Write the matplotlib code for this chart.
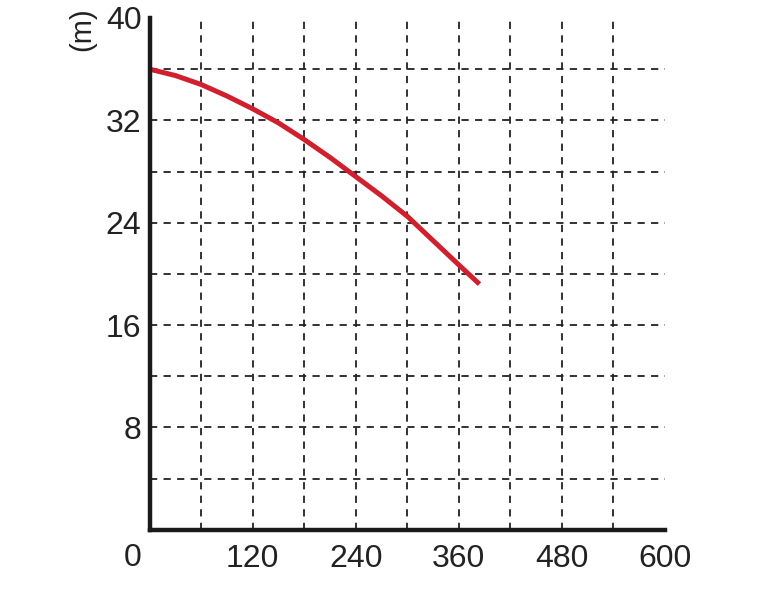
import matplotlib
matplotlib.use("Agg")
import matplotlib.pyplot as plt

plt.rcParams['font.family'] = ['Liberation Sans', 'DejaVu Sans']

# curve: flow vs head (m)
flow = [0, 30, 60, 90, 120, 150, 180, 210, 240, 270, 300, 330, 360, 384]
head = [36.0, 35.5, 34.8, 33.9, 32.9, 31.8, 30.5, 29.1, 27.6, 26.1, 24.5,
        22.6, 20.7, 19.2]

x_ticks = [120, 240, 360, 480, 600]
y_ticks = [8, 16, 24, 32, 40]
x_grid = [60, 120, 180, 240, 300, 360, 420, 480, 540]
y_grid = [4, 8, 12, 16, 20, 24, 28, 32, 36]

fig = plt.figure(figsize=(7.6, 6), dpi=100)
ax = fig.add_axes([0.197, 0.117, 0.678, 0.853])

for gx in x_grid:
    ax.axvline(gx, color='#222222', lw=1.3, ls=(0, (4, 3.5)), zorder=1)
for gy in y_grid:
    ax.axhline(gy, color='#222222', lw=1.3, ls=(0, (4, 3.5)), zorder=1)

ax.plot(flow, head, color='#d0202e', lw=3.6, solid_capstyle='butt',
        solid_joinstyle='round', zorder=3)

ax.set_xlim(0, 600)
ax.set_ylim(0, 40)
ax.set_xticks(x_ticks)
ax.set_yticks(y_ticks)
ax.tick_params(length=0, labelsize=23, colors='#222222')
ax.tick_params(axis='x', pad=10)
ax.tick_params(axis='y', pad=6)

for side in ['top', 'right']:
    ax.spines[side].set_visible(False)
for side in ['left', 'bottom']:
    ax.spines[side].set_linewidth(3.2)
    ax.spines[side].set_color('#1a1a1a')
    ax.spines[side].set_zorder(4)

ax.text(-20, -2.2, '0', fontsize=23, color='#222222', ha='center', va='center')
ax.text(-78, 39.1, '(m)', fontsize=21, color='#222222', rotation=90,
        ha='center', va='center')

fig.savefig('out.png', dpi=100)
